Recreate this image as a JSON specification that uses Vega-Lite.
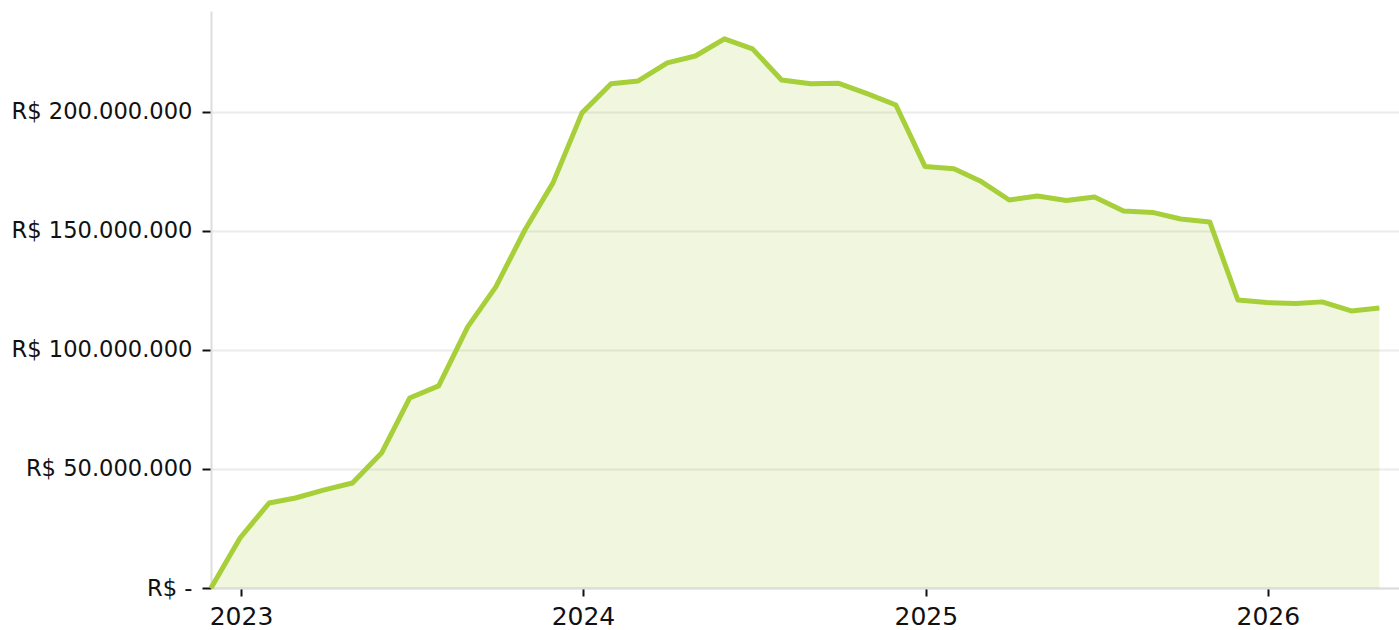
{
  "$schema": "https://vega.github.io/schema/vega-lite/v6.json",
  "width": 1188,
  "height": 577,
  "autosize": {"type": "none"},
  "padding": {"left": 211, "top": 11, "right": 0, "bottom": 42},
  "background": "white",
  "config": {
    "view": {"stroke": null},
    "font": "DejaVu Sans"
  },
  "data": {
    "values": [
      {"date": "2022-11-30", "value": 0},
      {"date": "2022-12-31", "value": 21000000},
      {"date": "2023-01-31", "value": 35700000},
      {"date": "2023-02-28", "value": 37800000},
      {"date": "2023-03-31", "value": 41200000},
      {"date": "2023-04-30", "value": 44100000},
      {"date": "2023-05-31", "value": 56700000},
      {"date": "2023-06-30", "value": 79800000},
      {"date": "2023-07-31", "value": 84900000},
      {"date": "2023-08-31", "value": 109700000},
      {"date": "2023-09-30", "value": 126500000},
      {"date": "2023-10-31", "value": 150400000},
      {"date": "2023-11-30", "value": 170200000},
      {"date": "2023-12-31", "value": 199600000},
      {"date": "2024-01-31", "value": 211800000},
      {"date": "2024-02-29", "value": 213000000},
      {"date": "2024-03-31", "value": 220600000},
      {"date": "2024-04-30", "value": 223500000},
      {"date": "2024-05-31", "value": 230700000},
      {"date": "2024-06-30", "value": 226500000},
      {"date": "2024-07-31", "value": 213400000},
      {"date": "2024-08-31", "value": 211800000},
      {"date": "2024-09-30", "value": 212000000},
      {"date": "2024-10-31", "value": 207600000},
      {"date": "2024-11-30", "value": 202900000},
      {"date": "2024-12-31", "value": 177100000},
      {"date": "2025-01-31", "value": 176100000},
      {"date": "2025-02-28", "value": 171000000},
      {"date": "2025-03-31", "value": 163000000},
      {"date": "2025-04-30", "value": 164700000},
      {"date": "2025-05-31", "value": 162800000},
      {"date": "2025-06-30", "value": 164300000},
      {"date": "2025-07-31", "value": 158400000},
      {"date": "2025-08-31", "value": 157800000},
      {"date": "2025-09-30", "value": 155000000},
      {"date": "2025-10-31", "value": 153800000},
      {"date": "2025-11-30", "value": 121000000},
      {"date": "2025-12-31", "value": 119900000},
      {"date": "2026-01-31", "value": 119500000},
      {"date": "2026-02-28", "value": 120200000},
      {"date": "2026-03-31", "value": 116400000},
      {"date": "2026-04-30", "value": 117600000}
    ]
  },
  "encoding": {
    "x": {
      "field": "date",
      "type": "temporal",
      "title": null,
      "scale": {"type": "utc", "domain": [{"year": 2022, "month": 11, "date": 30, "utc": true}, {"year": 2026, "month": 5, "date": 21, "utc": true}], "nice": false},
      "axis": {
        "values": [{"year": 2023, "month": 1, "date": 1, "utc": true}, {"year": 2024, "month": 1, "date": 1, "utc": true}, {"year": 2025, "month": 1, "date": 1, "utc": true}, {"year": 2026, "month": 1, "date": 1, "utc": true}],
        "labelExpr": "utcFormat(datum.value, '%Y')",
        "grid": false,
        "domainColor": "#dddddd",
        "domainWidth": 2,
        "tickColor": "#111111",
        "tickWidth": 2,
        "tickSize": 8,
        "labelFontSize": 25,
        "labelColor": "#111111",
        "labelPadding": 8,
        "labelFlush": false
      }
    },
    "y": {
      "field": "value",
      "type": "quantitative",
      "title": null,
      "scale": {"domain": [0, 242400000], "nice": false, "zero": true},
      "axis": {
        "values": [0, 50000000, 100000000, 150000000, 200000000],
        "labelExpr": "datum.value == 0 ? 'R$ -' : 'R$ ' + replace(replace(replace(format(datum.value, ',.0f'), ',', '.'), ',', '.'), ',', '.')",
        "labelLimit": 400,
        "grid": true,
        "gridColor": "#ebebeb",
        "gridWidth": 2,
        "domainColor": "#dddddd",
        "domainWidth": 2,
        "tickColor": "#111111",
        "tickWidth": 2,
        "tickSize": 9,
        "labelFontSize": 22.6,
        "labelColor": "#111111",
        "labelPadding": 10
      }
    }
  },
  "layer": [
    {"mark": {"type": "area", "color": "#a6cf3a", "opacity": 0.16}},
    {"mark": {"type": "line", "color": "#a6cf3a", "strokeWidth": 5, "strokeJoin": "round"}}
  ]
}
